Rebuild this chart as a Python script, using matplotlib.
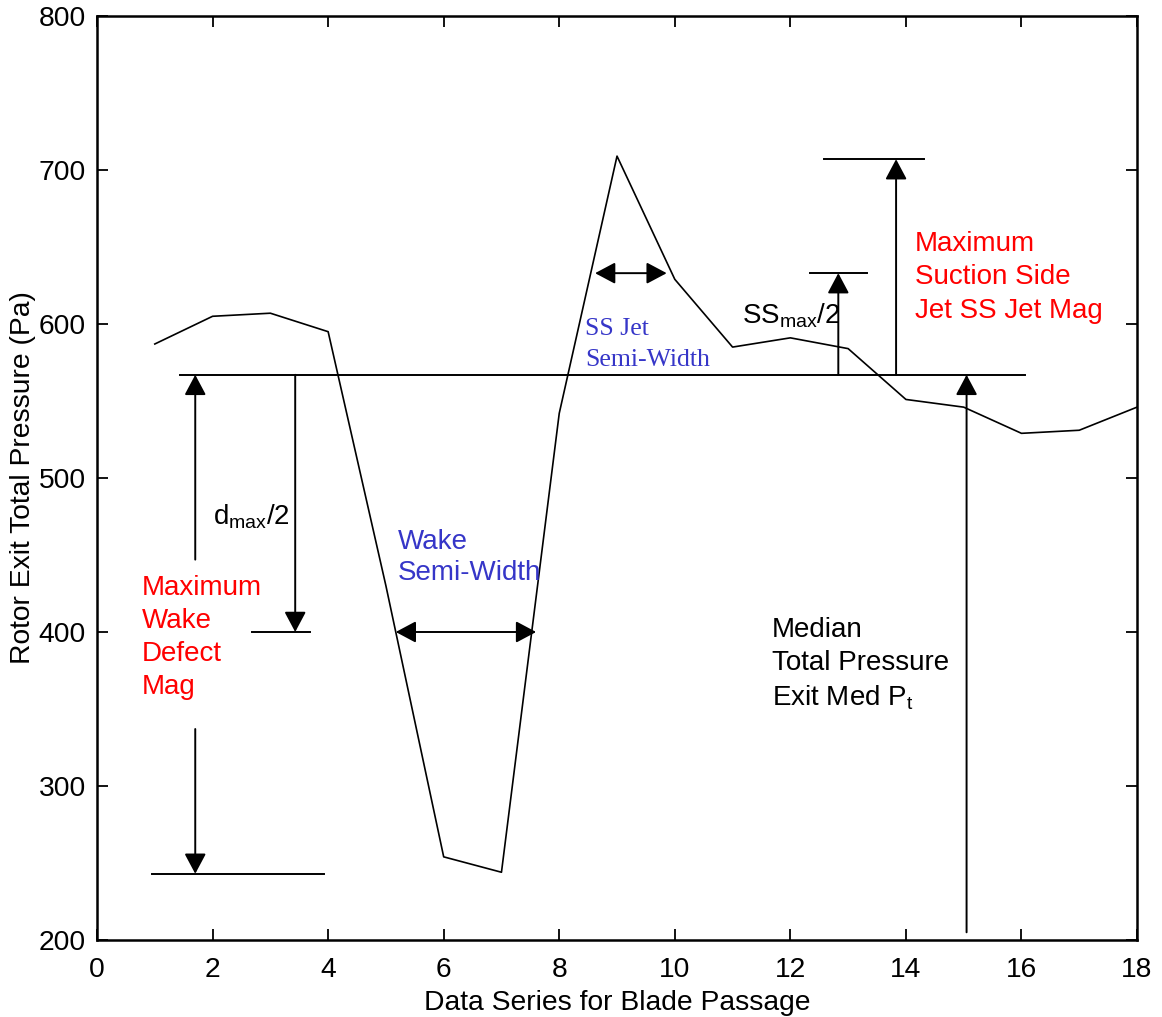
import matplotlib
matplotlib.use("Agg")
import matplotlib.pyplot as plt

plt.rcParams['font.family'] = ['Liberation Sans', 'DejaVu Sans']
plt.rcParams['mathtext.fontset'] = 'custom'
plt.rcParams['mathtext.rm'] = 'Liberation Sans'
plt.rcParams['mathtext.it'] = 'Liberation Sans:italic'
plt.rcParams['mathtext.bf'] = 'Liberation Sans:bold'

# ---- data ----
series_x = list(range(1, 19))
pressure = [587, 605, 607, 595, 430, 254, 244, 542, 709, 629,
            585, 591, 584, 551, 546, 529, 531, 546]
x_ticks = [0, 2, 4, 6, 8, 10, 12, 14, 16, 18]
y_ticks = [200, 300, 400, 500, 600, 700, 800]
median_pt = 567
wake_min = 243
wake_half = 400
ss_half = 633
ss_max = 707

RED = '#FF0000'
BLUE = '#3636C8'

fig = plt.figure(figsize=(11.62, 10.17), dpi=100)
ax = fig.add_axes([0.0835, 0.0757, 0.895, 0.9086])

ax.plot(series_x, pressure, color='black', lw=1.2)

# horizontal reference lines
ax.plot([1.44, 16.06], [median_pt, median_pt], color='black', lw=1.4)
ax.plot([0.95, 3.93], [wake_min, wake_min], color='black', lw=1.4)
ax.plot([2.68, 3.69], [wake_half, wake_half], color='black', lw=1.4)
ax.plot([12.34, 13.33], [ss_half, ss_half], color='black', lw=1.4)
ax.plot([12.58, 14.32], [ss_max, ss_max], color='black', lw=1.4)

def arrow(x0, y0, x1, y1, style='-|>'):
    ax.annotate('', xy=(x1, y1), xytext=(x0, y0),
                arrowprops=dict(arrowstyle=style + ',head_length=0.62,head_width=0.33',
                                mutation_scale=20, lw=1.4, color='black',
                                shrinkA=0, shrinkB=0))

arrow(1.70, 447, 1.70, median_pt)
arrow(1.70, 337, 1.70, wake_min)
arrow(3.43, median_pt, 3.43, wake_half)
arrow(5.17, wake_half, 7.60, wake_half, '<|-|>')
arrow(8.62, ss_half, 9.86, ss_half, '<|-|>')
arrow(12.83, median_pt, 12.83, ss_half)
arrow(13.83, median_pt, 13.83, ss_max)
arrow(15.05, 205, 15.05, median_pt)

# texts
ax.text(2.0, 469.5, r'd$_\mathrm{max}$/2', fontsize=20, ha='left', va='baseline')
ax.text(0.77, 396.5, 'Maximum\nWake\nDefect\nMag', color=RED, fontsize=20,
        ha='left', va='center', linespacing=1.36)
ax.text(5.21, 448.3, 'Wake\nSemi-Width', color=BLUE, fontsize=20,
        ha='left', va='center', linespacing=1.22)
ax.text(8.45, 586.9, 'SS Jet\nSemi-Width', color=BLUE, fontsize=18.5,
        family=['Liberation Serif', 'DejaVu Serif'],
        ha='left', va='center', linespacing=1.52)
ax.text(11.17, 600.5, r'SS$_\mathrm{max}$/2', fontsize=20, ha='left', va='baseline')
ax.text(14.15, 630.2, 'Maximum\nSuction Side\nJet SS Jet Mag', color=RED, fontsize=20,
        ha='left', va='center', linespacing=1.37)
ax.text(11.68, 379, 'Median\nTotal Pressure\n' + r'Exit Med P$_\mathrm{t}$', fontsize=20,
        ha='left', va='center', linespacing=1.34)

ax.set_xlim(0, 18)
ax.set_ylim(200, 800)
ax.set_xticks(x_ticks)
ax.set_yticks(y_ticks)
ax.tick_params(direction='in', top=True, right=True, length=8, width=1.3,
               labelsize=20.3, pad=8)
ax.tick_params(axis='x', pad=12)
for s in ax.spines.values():
    s.set_linewidth(1.8)

ax.set_xlabel('Data Series for Blade Passage', fontsize=20.3, labelpad=5)
ax.set_ylabel('Rotor Exit Total Pressure (Pa)', fontsize=20.3, labelpad=2)

fig.savefig('out.png', dpi=100)
